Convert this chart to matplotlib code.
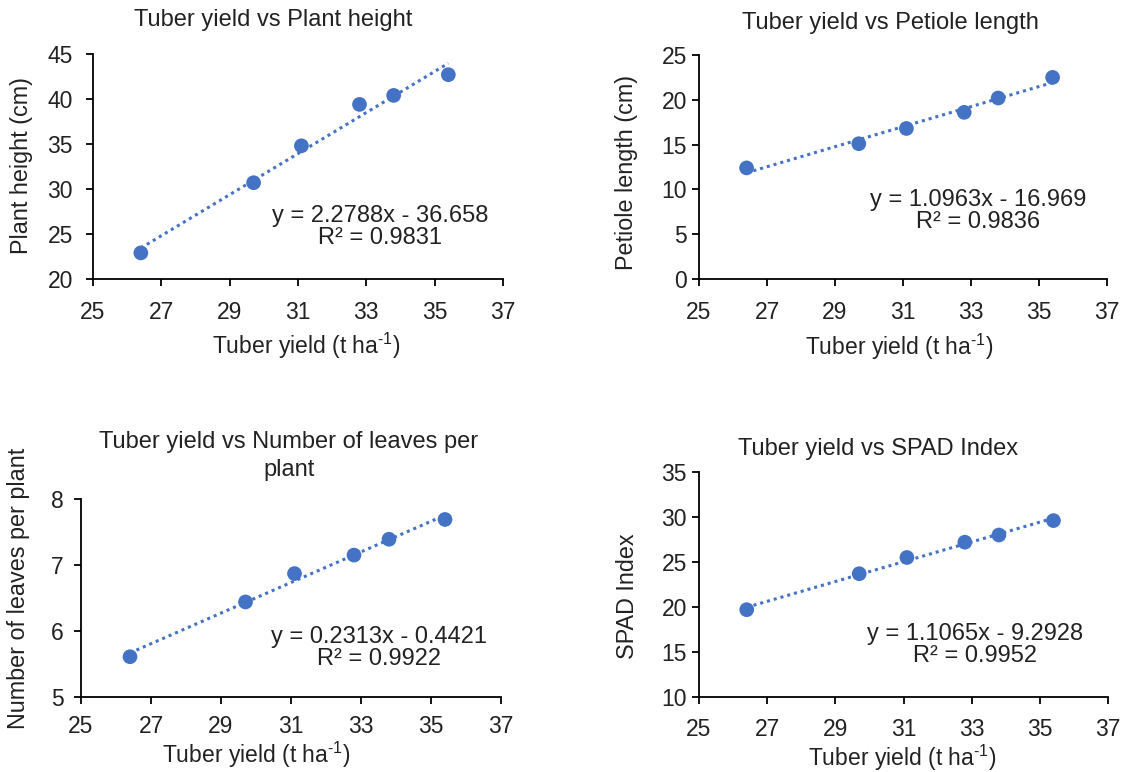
import numpy as np
import matplotlib
matplotlib.use("Agg")
import matplotlib.pyplot as plt

plt.rcParams['font.family'] = ['Liberation Sans', 'DejaVu Sans']
plt.rcParams['mathtext.fontset'] = 'custom'
plt.rcParams['mathtext.rm'] = 'Liberation Sans'
plt.rcParams['mathtext.it'] = 'Liberation Sans'
plt.rcParams['mathtext.default'] = 'regular'

# ---- data ----
tuber_yield = [26.4, 29.7, 31.1, 32.8, 33.8, 35.4]
plant_height = [22.9, 30.7, 34.8, 39.4, 40.4, 42.7]
petiole_length = [12.4, 15.1, 16.8, 18.6, 20.2, 22.5]
leaves_per_plant = [5.61, 6.44, 6.87, 7.15, 7.39, 7.69]
spad_index = [19.7, 23.7, 25.5, 27.2, 28.0, 29.6]

titles = ["Tuber yield vs Plant height", "Tuber yield vs Petiole length",
          "Tuber yield vs Number of leaves per\nplant", "Tuber yield vs SPAD Index"]
ylabels = ["Plant height (cm)", "Petiole length (cm)",
           "Number of leaves per plant", "SPAD Index"]
equations = ["y = 2.2788x - 36.658\nR² = 0.9831",
             "y = 1.0963x - 16.969\nR² = 0.9836",
             "y = 0.2313x - 0.4421\nR² = 0.9922",
             "y = 1.1065x - 9.2928\nR² = 0.9952"]
xlabel = "Tuber yield (t ha$^{\\text{-}1}$)"
xticks = [25, 27, 29, 31, 33, 35, 37]
yticks = [[20, 25, 30, 35, 40, 45], [0, 5, 10, 15, 20, 25],
          [5, 6, 7, 8], [10, 15, 20, 25, 30, 35]]

W, H = 1129, 772
fig = plt.figure(figsize=(W / 100, H / 100), dpi=100)

# axes boxes in pixels: left, top, right, bottom
boxes = [(93, 54, 503, 279), (699, 55, 1107, 279),
         (81, 499, 501, 697), (699, 472, 1108, 697)]
title_pos = [(273, 20), (890, 23), (289, 456), (878, 449)]
xlabel_pos = [(306, 346), (899, 347), (256, 755), (902, 758)]
ylabel_pos = [(22, 165), (627, 172), (19, 588), (628, 596)]
eq_pos = [(0.70, 0.229), (0.685, 0.305), (0.71, 0.245), (0.675, 0.233)]
ypads = [9.5, 3.7, 7.3, 3.7]
xpads = [10.8, 10.8, 7.7, 10.0]

series = [plant_height, petiole_length, leaves_per_plant, spad_index]
blue = '#4472C4'
txt = '#222222'

for i in range(4):
    l, t, r, b = boxes[i]
    ax = fig.add_axes([l / W, 1 - b / H, (r - l) / W, (b - t) / H])
    y = series[i]
    coef = np.polyfit(tuber_yield, y, 1)
    xs = np.array([min(tuber_yield), max(tuber_yield)])
    ax.plot(xs, np.polyval(coef, xs), linestyle=(0, (1, 1.3)), color=blue,
            lw=2.2, zorder=2)
    ax.scatter(tuber_yield, y, s=112, color=blue, zorder=3, edgecolors='none')
    ax.set_xlim(25, 37)
    ax.set_ylim(yticks[i][0], yticks[i][-1])
    ax.set_xticks(xticks)
    ax.set_yticks(yticks[i])
    for s in ['top', 'right']:
        ax.spines[s].set_visible(False)
    for s in ['left', 'bottom']:
        ax.spines[s].set_linewidth(1.3)
        ax.spines[s].set_color('black')
    ax.tick_params(direction='out', length=5, width=1.3, labelsize=16.5,
                   colors='black', labelcolor=txt)
    ax.tick_params(axis='y', pad=ypads[i])
    ax.tick_params(axis='x', pad=xpads[i])
    ax.patch.set_alpha(0)
    ax.text(eq_pos[i][0], eq_pos[i][1], equations[i], transform=ax.transAxes,
            ha='center', va='center', fontsize=17, linespacing=1.0, color=txt)
    fig.text(title_pos[i][0] / W, 1 - title_pos[i][1] / H, titles[i],
             ha='center', va='center', fontsize=17, linespacing=1.35, color=txt)
    fig.text(xlabel_pos[i][0] / W, 1 - xlabel_pos[i][1] / H, xlabel,
             ha='center', va='center', fontsize=16.5, color=txt)
    fig.text(ylabel_pos[i][0] / W, 1 - ylabel_pos[i][1] / H, ylabels[i],
             ha='center', va='center', fontsize=16.8, rotation=90, color=txt)

fig.savefig("out.png", dpi=100, facecolor='white')
